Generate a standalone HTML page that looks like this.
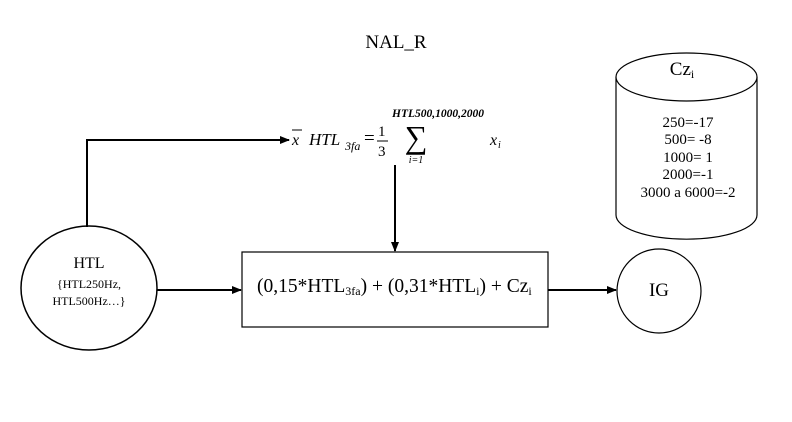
<!DOCTYPE html>
<html><head><meta charset="utf-8"><style>
html,body{margin:0;padding:0;background:#fff}
svg{display:block}
text{font-family:"Liberation Serif",serif;fill:#000}
</style></head><body>
<svg width="792" height="422" viewBox="0 0 792 422" xmlns="http://www.w3.org/2000/svg">
<defs><marker id="a" markerWidth="10" markerHeight="8" refX="9" refY="4" orient="auto" markerUnits="userSpaceOnUse"><path d="M0,0 L10,4 L0,8 z" fill="#000"/></marker></defs>
<text x="396" y="48" font-size="19" text-anchor="middle" font-family="Liberation Sans">NAL_R</text>
<ellipse cx="89" cy="288" rx="68" ry="62" fill="#fff" stroke="#000" stroke-width="1.5"/>
<text x="89" y="268" font-size="16" text-anchor="middle">HTL</text>
<text x="89" y="288" font-size="12" text-anchor="middle">{HTL250Hz,</text>
<text x="89" y="305" font-size="12" text-anchor="middle">HTL500Hz…}</text>
<path d="M87,227 V140 H289" fill="none" stroke="#000" stroke-width="2" marker-end="url(#a)"/>
<text x="292" y="145" font-size="16" font-style="italic">x</text>
<line x1="292" y1="130" x2="302" y2="130" stroke="#000" stroke-width="1"/>
<text x="309" y="145" font-size="17" font-style="italic">HTL</text>
<text x="345" y="150" font-size="12" font-style="italic">3fa</text>
<text x="364" y="144" font-size="19">=</text>
<text x="378" y="136" font-size="15">1</text>
<line x1="377" y1="141" x2="388" y2="141" stroke="#000" stroke-width="1"/>
<text x="378" y="156" font-size="15">3</text>
<text x="392" y="117" font-size="11.5" font-style="italic" font-weight="bold" font-family="Liberation Sans">HTL500,1000,2000</text>
<text x="416" y="148" font-size="32" text-anchor="middle" font-family="DejaVu Sans" font-weight="normal">∑</text>
<text x="416" y="163" font-size="10" font-style="italic" text-anchor="middle">i=1</text>
<text x="490" y="145" font-size="16" font-style="italic">x</text>
<text x="498" y="148" font-size="10" font-style="italic">i</text>
<line x1="395" y1="165" x2="395" y2="251" stroke="#000" stroke-width="2" marker-end="url(#a)"/>
<rect x="242" y="252" width="306" height="75" fill="#fff" stroke="#000" stroke-width="1.2"/>
<text x="257" y="292" font-size="19.5">(0,15*HTL<tspan font-size="12" dy="3">3fa</tspan><tspan dy="-3">) + (0,31*HTL</tspan><tspan font-size="12" dy="3">i</tspan><tspan dy="-3">) + Cz</tspan><tspan font-size="12" dy="3">i</tspan></text>
<line x1="157" y1="290" x2="241" y2="290" stroke="#000" stroke-width="2" marker-end="url(#a)"/>
<line x1="548" y1="290" x2="616" y2="290" stroke="#000" stroke-width="2" marker-end="url(#a)"/>
<circle cx="659" cy="291" r="42" fill="#fff" stroke="#000" stroke-width="1.2"/>
<text x="659" y="296" font-size="19" text-anchor="middle">IG</text>
<path d="M616,77 V215 A70,24 0 0 0 757,215 V77" fill="#fff" stroke="#000" stroke-width="1.2"/>
<ellipse cx="686.5" cy="77" rx="70.5" ry="24" fill="#fff" stroke="#000" stroke-width="1.2"/>
<text x="682" y="75" font-size="19" text-anchor="middle">Cz<tspan font-size="12" dy="3">i</tspan></text>
<g font-size="15" text-anchor="middle">
<text x="688" y="127">250=-17</text>
<text x="688" y="144">500= -8</text>
<text x="688" y="162">1000= 1</text>
<text x="688" y="179">2000=-1</text>
<text x="688" y="197">3000 a 6000=-2</text>
</g>
</svg>
</body></html>
